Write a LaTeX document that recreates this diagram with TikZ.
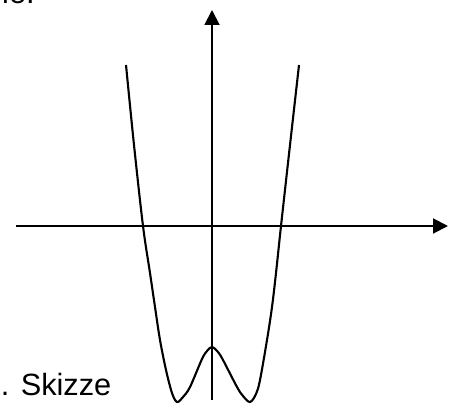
\documentclass[tikz,border=0pt]{standalone}
\usepackage{fontspec}
\setmainfont{Liberation Sans}
\usetikzlibrary{arrows.meta}
\begin{document}
\begin{tikzpicture}[x=0.02cm,y=-0.02cm,
  axis/.style={line width=1.1pt,-{Triangle[length=8.5pt,width=8.5pt]}},
  curve/.style={line width=1.2pt,line join=round},
  lbl/.style={inner sep=0pt,font=\fontsize{17.5}{20}\selectfont}]
\useasboundingbox (0,0) rectangle (452,405);
\coordinate (xs) at (16,226);
\coordinate (xe) at (448,226);
\coordinate (ys) at (212,400);
\coordinate (ye) at (212,10);
\draw[axis] (xs) -- (xe);
\draw[axis] (ys) -- (ye);
\draw[curve] plot[smooth,tension=0.55] coordinates {
 (126,65) (134,145) (143,226) (150,273) (155,307) (160,340) (166,370)
 (172,393) (177,402) (183,397) (190,387) (202,359) (207,351) (212,347)
 (218,352) (223,360) (237,387) (243,396) (250,402) (256,394) (260,380)
 (267,340) (272,307) (276,273) (281,226) (290,145) (299,65)};
\node[lbl,anchor=base west] (t1) at (0.5,395) {. Skizze};
\node[lbl,anchor=base east] (t2) at (35,4) {ie:};
\end{tikzpicture}
\end{document}
